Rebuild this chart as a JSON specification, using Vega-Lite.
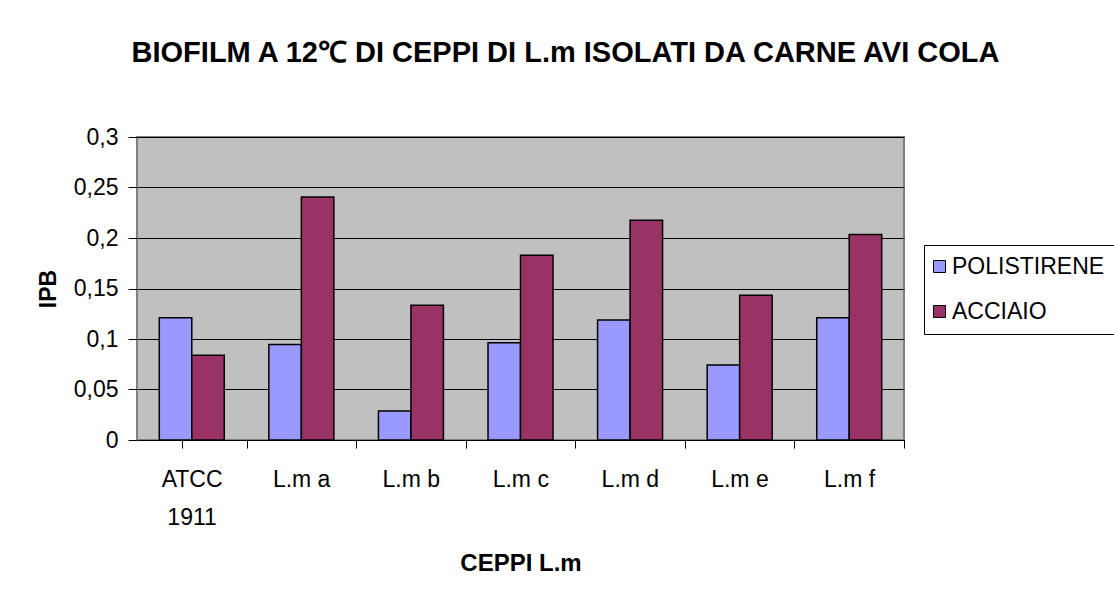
{
  "$schema": "https://vega.github.io/schema/vega-lite/v6.json",
  "width": 767,
  "height": 303,
  "autosize": {"type": "none"},
  "padding": {"left": 137, "top": 137, "right": 210, "bottom": 165},
  "background": "white",
  "title": {
    "text": "BIOFILM A 12℃ DI CEPPI DI L.m ISOLATI DA CARNE AVI COLA",
    "anchor": "middle",
    "frame": "group",
    "dx": 45,
    "baseline": "alphabetic",
    "offset": 35,
    "fontSize": 29,
    "fontWeight": "bold",
    "font": "Liberation Sans",
    "color": "black"
  },
  "data": {
    "values": [
      {"ceppo": "ATCC 1911", "superficie": "POLISTIRENE", "IPB": 0.121},
      {"ceppo": "ATCC 1911", "superficie": "ACCIAIO", "IPB": 0.084},
      {"ceppo": "L.m a", "superficie": "POLISTIRENE", "IPB": 0.0946},
      {"ceppo": "L.m a", "superficie": "ACCIAIO", "IPB": 0.2406},
      {"ceppo": "L.m b", "superficie": "POLISTIRENE", "IPB": 0.0287},
      {"ceppo": "L.m b", "superficie": "ACCIAIO", "IPB": 0.1335},
      {"ceppo": "L.m c", "superficie": "POLISTIRENE", "IPB": 0.0962},
      {"ceppo": "L.m c", "superficie": "ACCIAIO", "IPB": 0.183},
      {"ceppo": "L.m d", "superficie": "POLISTIRENE", "IPB": 0.1187},
      {"ceppo": "L.m d", "superficie": "ACCIAIO", "IPB": 0.2175},
      {"ceppo": "L.m e", "superficie": "POLISTIRENE", "IPB": 0.0742},
      {"ceppo": "L.m e", "superficie": "ACCIAIO", "IPB": 0.1434},
      {"ceppo": "L.m f", "superficie": "POLISTIRENE", "IPB": 0.121},
      {"ceppo": "L.m f", "superficie": "ACCIAIO", "IPB": 0.2034}
    ]
  },
  "mark": {"type": "bar", "stroke": "black", "strokeWidth": 1.5},
  "encoding": {
    "x": {
      "field": "ceppo",
      "type": "nominal",
      "sort": null,
      "scale": {"paddingInner": 0.407, "paddingOuter": 0.2035},
      "axis": {
        "title": "CEPPI L.m",
        "titleFontSize": 24,
        "titleFontWeight": "bold",
        "titlePadding": 22,
        "labelAngle": 0,
        "labelFontSize": 23,
        "labelPadding": 20,
        "labelLineHeight": 38,
        "labelExpr": "datum.value == 'ATCC 1911' ? ['ATCC', '1911'] : datum.value",
        "ticks": true,
        "bandPosition": 1,
        "tickOffset": 22.3,
        "tickExtra": true,
        "labelOffset": -22.5,
        "tickSize": 8,
        "tickWidth": 1,
        "tickColor": "black",
        "domainColor": "black",
        "grid": false
      }
    },
    "xOffset": {
      "field": "superficie",
      "type": "nominal",
      "sort": ["POLISTIRENE", "ACCIAIO"],
      "scale": {"paddingInner": 0, "paddingOuter": 0}
    },
    "y": {
      "field": "IPB",
      "type": "quantitative",
      "scale": {"domain": [0, 0.3], "nice": false},
      "axis": {
        "title": "IPB",
        "titleFontSize": 23,
        "titleFontWeight": "bold",
        "titlePadding": 13,
        "values": [0, 0.05, 0.1, 0.15, 0.2, 0.25, 0.3],
        "labelExpr": "replace(format(datum.value, '.2~f'), '.', ',')",
        "labelFontSize": 23,
        "labelPadding": 10,
        "tickSize": 9,
        "tickColor": "black",
        "domainColor": "#808080",
        "grid": true,
        "gridColor": "black",
        "gridWidth": 1,
        "gridOpacity": 1
      }
    },
    "color": {
      "field": "superficie",
      "type": "nominal",
      "sort": ["POLISTIRENE", "ACCIAIO"],
      "scale": {"domain": ["POLISTIRENE", "ACCIAIO"], "range": ["#9999FF", "#993366"]},
      "legend": {
        "title": null,
        "orient": "none",
        "legendX": 787,
        "legendY": 108,
        "strokeColor": "black",
        "fillColor": "white",
        "padding": 10,
        "symbolType": "square",
        "symbolSize": 144,
        "symbolOffset": -6,
        "symbolStrokeColor": "black",
        "symbolStrokeWidth": 1,
        "symbolOpacity": 1,
        "labelFontSize": 23,
        "labelOffset": 1,
        "rowPadding": 21,
        "labelColor": "black"
      }
    }
  },
  "config": {
    "font": "Liberation Sans",
    "view": {"fill": "#C0C0C0", "stroke": "#808080", "strokeWidth": 2},
    "axis": {"labelColor": "black", "titleColor": "black", "labelFont": "Liberation Sans", "titleFont": "Liberation Sans"},
    "legend": {"labelFont": "Liberation Sans"}
  }
}
